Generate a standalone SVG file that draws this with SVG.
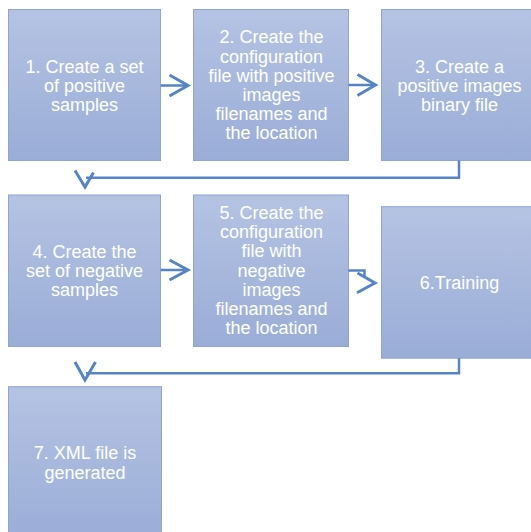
<svg xmlns="http://www.w3.org/2000/svg" width="531" height="532" viewBox="0 0 531 532">
<defs>
<linearGradient id="g" x1="0" y1="0" x2="0" y2="1">
<stop offset="0" stop-color="#b5c3e3"/>
<stop offset="1" stop-color="#9aadd7"/>
</linearGradient>
</defs>
<style>
.box{fill:url(#g);stroke:#8fa4d3;stroke-width:1}
.t{font-family:"Liberation Sans",Arial,sans-serif;font-size:18px;fill:#ffffff;text-anchor:middle}
.c{fill:none;stroke:#5585c6;stroke-width:2.5}
.h{fill:none;stroke:#5585c6;stroke-width:3;stroke-linejoin:miter}
</style>
<g id="n1">
<rect class="box" x="8.5" y="9.5" width="152" height="151"/>
<text class="t"><tspan x="84.5" y="72.5">1. Create a set</tspan><tspan x="84.5" y="91.8">of positive</tspan><tspan x="84.5" y="111">samples</tspan></text>
</g>
<g id="n2">
<rect class="box" x="193.5" y="9.5" width="155" height="151"/>
<text class="t"><tspan x="271.5" y="43.3">2. Create the</tspan><tspan x="271.5" y="62.5">configuration</tspan><tspan x="271.5" y="81.7">file with positive</tspan><tspan x="271.5" y="100.9">images</tspan><tspan x="271.5" y="120.1">filenames and</tspan><tspan x="271.5" y="139.3">the location</tspan></text>
</g>
<g id="n3">
<rect class="box" x="381.5" y="9.5" width="156" height="151"/>
<text class="t"><tspan x="459.5" y="72.5">3. Create a</tspan><tspan x="459.5" y="91.8">positive images</tspan><tspan x="459.5" y="111">binary file</tspan></text>
</g>
<g id="n4">
<rect class="box" x="8.5" y="195" width="152" height="151.5"/>
<text class="t"><tspan x="84.5" y="257.5">4. Create the</tspan><tspan x="84.5" y="276.8">set of negative</tspan><tspan x="84.5" y="296">samples</tspan></text>
</g>
<g id="n5">
<rect class="box" x="193.5" y="195" width="155" height="151.5"/>
<text class="t"><tspan x="271.5" y="219">5. Create the</tspan><tspan x="271.5" y="238.2">configuration</tspan><tspan x="271.5" y="257.4">file with</tspan><tspan x="271.5" y="276.6">negative</tspan><tspan x="271.5" y="295.8">images</tspan><tspan x="271.5" y="315">filenames and</tspan><tspan x="271.5" y="334.3">the location</tspan></text>
</g>
<g id="n6">
<rect class="box" x="381.5" y="206.7" width="156" height="151.5"/>
<text class="t"><tspan x="459.5" y="289.3">6.Training</tspan></text>
</g>
<g id="n7">
<rect class="box" x="8.5" y="386.7" width="153" height="155"/>
<text class="t"><tspan x="85" y="459.3">7. XML file is</tspan><tspan x="85" y="478.7">generated</tspan></text>
</g>
<g id="connectors">
<path class="c" d="M160.5,85.5 H187"/>
<path class="h" d="M169.5,75 L188,85.5 L169.5,96"/>
<path class="c" d="M348.5,85 H374"/>
<path class="h" d="M357.5,74.5 L375.5,85 L357.5,95.5"/>
<path class="c" d="M459,160.5 V177.8 H86"/>
<path class="h" d="M75,170.5 L85,187 L93.5,172.5"/>
<path class="c" d="M160.5,270 H187"/>
<path class="h" d="M169.5,260 L188,270 L169.5,280"/>
<path class="c" d="M348.5,270.5 H364.5 V277"/>
<path class="h" d="M357.5,273 L375,283 L357,292.7"/>
<path class="c" d="M459,358.2 V373.3 H86"/>
<path class="h" d="M75,362 L85,380 L95.5,362"/>
</g>
</svg>
